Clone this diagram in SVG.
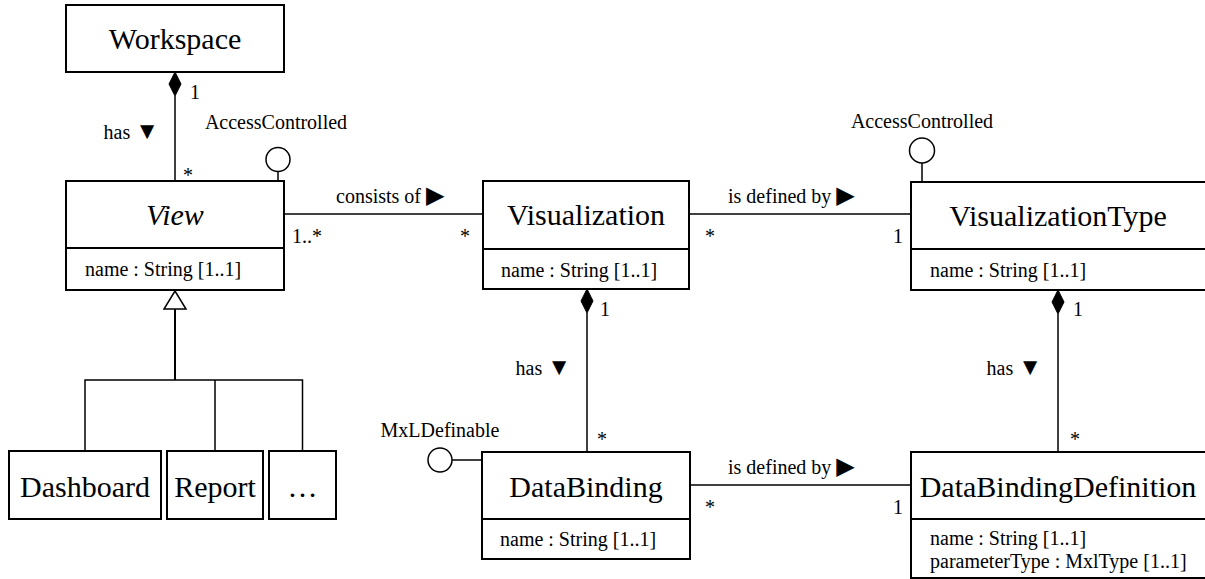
<svg xmlns="http://www.w3.org/2000/svg" width="1205" height="579" viewBox="0 0 1205 579">
<style>
.box{fill:#fff;stroke:#000;stroke-width:2}
.div{stroke:#000;stroke-width:2}
.ln{stroke:#000;stroke-width:1.5;fill:none}
text{font-family:'Liberation Serif','Tinos','Times New Roman','DejaVu Serif',serif;fill:#000}
.cls{font-size:30px;text-anchor:middle}
.attr{font-size:20px}
.lbl{font-size:20px}
.mid{text-anchor:middle}
.end{text-anchor:end}
.ar{font-size:24px}
.dia{fill:#000;stroke:#000;stroke-width:1}
.ifc{fill:#fff;stroke:#000;stroke-width:1.5}
</style>
<rect width="1205" height="579" fill="#fff"/>
<g id="connectors">
  <line class="ln" x1="175" y1="96" x2="175" y2="181"/>
  <polygon class="dia" points="175,72 181,84 175,96 169,84"/>
  <text class="lbl" x="190" y="99">1</text>
  <text class="lbl end" x="159" y="139">has <tspan class="ar">▼</tspan></text>
  <text class="lbl" x="183" y="182">*</text>
  <line class="ln" x1="284" y1="214" x2="483" y2="214"/>
  <text class="lbl" x="336" y="203">consists of <tspan class="ar">▶</tspan></text>
  <text class="lbl" x="292" y="243">1..*</text>
  <text class="lbl" x="460" y="243">*</text>
  <line class="ln" x1="689" y1="214" x2="911" y2="214"/>
  <text class="lbl" x="728" y="203">is defined by <tspan class="ar">▶</tspan></text>
  <text class="lbl" x="705" y="243">*</text>
  <text class="lbl" x="893" y="243">1</text>
  <line class="ln" x1="587" y1="313" x2="587" y2="452"/>
  <polygon class="dia" points="587,289 593,301 587,313 581,301"/>
  <text class="lbl" x="600" y="316">1</text>
  <text class="lbl end" x="571" y="375">has <tspan class="ar">▼</tspan></text>
  <text class="lbl" x="597" y="446">*</text>
  <line class="ln" x1="1058" y1="314" x2="1058" y2="452"/>
  <polygon class="dia" points="1058,290 1064,302 1058,314 1052,302"/>
  <text class="lbl" x="1073" y="316">1</text>
  <text class="lbl end" x="1042" y="375">has <tspan class="ar">▼</tspan></text>
  <text class="lbl" x="1070" y="446">*</text>
  <line class="ln" x1="690" y1="485" x2="911" y2="485"/>
  <text class="lbl" x="728" y="474">is defined by <tspan class="ar">▶</tspan></text>
  <text class="lbl" x="705" y="514">*</text>
  <text class="lbl" x="893" y="514">1</text>
  <polygon points="175,291 186,309 164,309" fill="#fff" stroke="#000" stroke-width="1.5"/>
  <line x1="175" y1="309" x2="175" y2="380" stroke="#000" stroke-width="2"/>
  <polyline class="ln" points="85,451 85,380 302.5,380 302.5,451"/>
  <line class="ln" x1="215" y1="380" x2="215" y2="451"/>
  <line class="ln" x1="278" y1="172" x2="278" y2="181"/>
  <circle class="ifc" cx="278" cy="159.5" r="12"/>
  <text class="lbl mid" x="276" y="129">AccessControlled</text>
  <line class="ln" x1="922" y1="163" x2="922" y2="182"/>
  <circle class="ifc" cx="922" cy="150.5" r="12.5"/>
  <text class="lbl mid" x="922" y="128">AccessControlled</text>
  <line class="ln" x1="452" y1="460" x2="482" y2="460"/>
  <circle class="ifc" cx="440" cy="460" r="12"/>
  <text class="lbl mid" x="440" y="437">MxLDefinable</text>
</g>
<g id="Workspace">
  <rect class="box" x="66" y="5" width="218" height="67"/>
  <text class="cls" x="175" y="49">Workspace</text>
</g>
<g id="View">
  <rect class="box" x="66" y="181" width="218" height="109"/>
  <line class="div" x1="66" y1="248" x2="284" y2="248"/>
  <text class="cls" x="175" y="225" font-style="italic">View</text>
  <text class="attr" x="85" y="276">name : String [1..1]</text>
</g>
<g id="Visualization">
  <rect class="box" x="483" y="181" width="206" height="108"/>
  <line class="div" x1="483" y1="249" x2="689" y2="249"/>
  <text class="cls" x="586" y="225">Visualization</text>
  <text class="attr" x="501" y="277">name : String [1..1]</text>
</g>
<g id="VisualizationType">
  <rect class="box" x="911" y="182" width="300" height="108"/>
  <line class="div" x1="911" y1="249" x2="1211" y2="249"/>
  <text class="cls" x="1058" y="226">VisualizationType</text>
  <text class="attr" x="930" y="277">name : String [1..1]</text>
</g>
<g id="DataBinding">
  <rect class="box" x="482" y="452" width="208" height="107"/>
  <line class="div" x1="482" y1="519" x2="690" y2="519"/>
  <text class="cls" x="586" y="497">DataBinding</text>
  <text class="attr" x="500" y="546">name : String [1..1]</text>
</g>
<g id="DataBindingDefinition">
  <rect class="box" x="911" y="452" width="300" height="126"/>
  <line class="div" x1="911" y1="519" x2="1211" y2="519"/>
  <text class="cls" x="1058" y="497">DataBindingDefinition</text>
  <text class="attr" x="930" y="545">name : String [1..1]</text>
  <text class="attr" x="930" y="568">parameterType : MxlType [1..1]</text>
</g>
<g id="Dashboard">
  <rect class="box" x="9" y="451" width="152" height="68"/>
  <text class="cls" x="85" y="497">Dashboard</text>
</g>
<g id="Report">
  <rect class="box" x="167" y="451" width="96" height="68"/>
  <text class="cls" x="215" y="497">Report</text>
</g>
<g id="More">
  <rect class="box" x="269" y="451" width="67" height="68"/>
  <text class="cls" x="302.5" y="497">…</text>
</g>
</svg>
